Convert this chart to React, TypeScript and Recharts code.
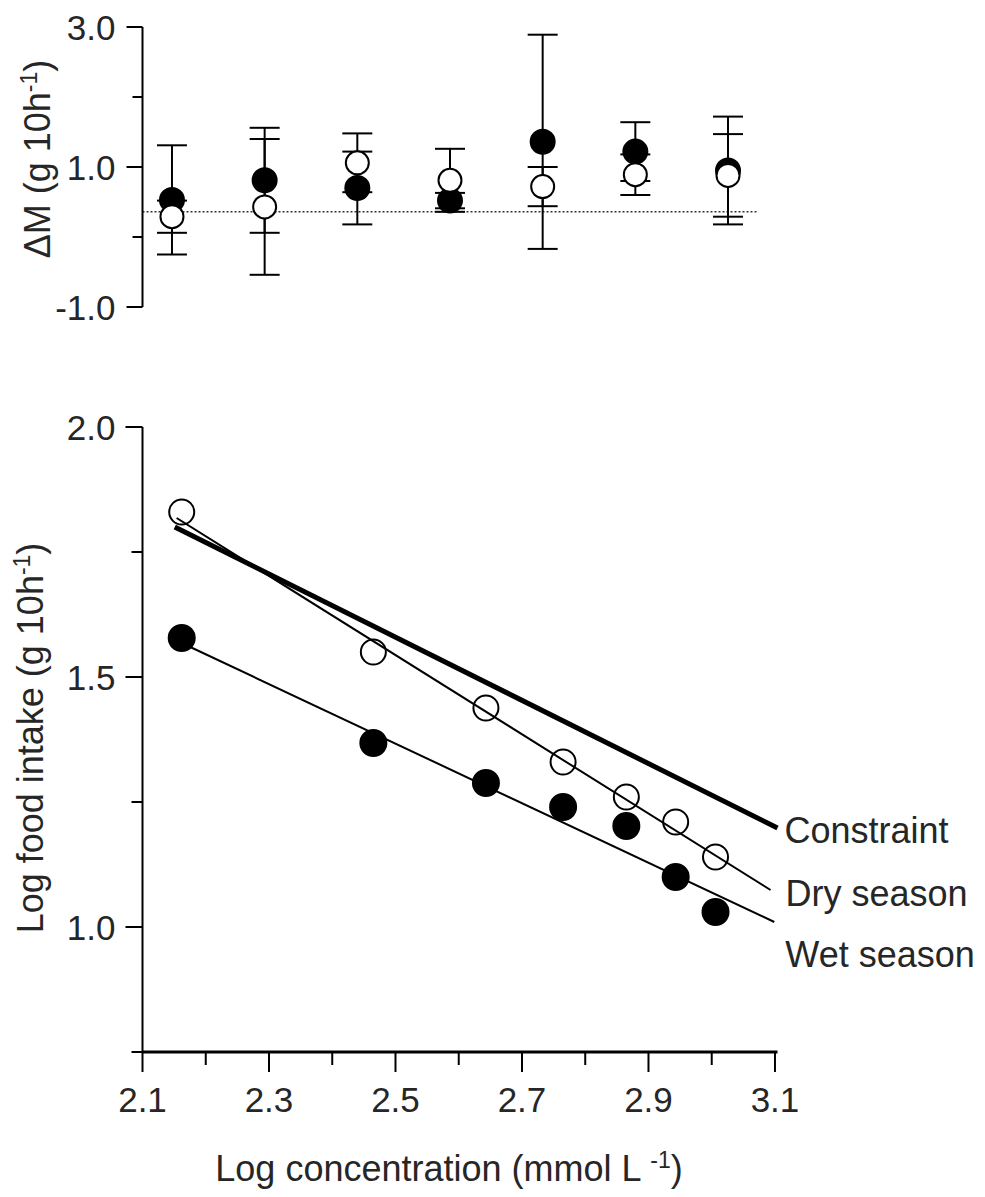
import React from 'react';
import { ScatterChart, Scatter, XAxis, YAxis, ErrorBar, ReferenceLine, Label } from 'recharts';

const FONT = '"Liberation Sans", Arial, Helvetica, sans-serif';
const TEXT = '#262626';

// ---------- top panel: change in body mass ----------
const groups = [1, 2, 3, 4, 5, 6, 7];
const wetChange = [0.53, 0.81, 0.7, 0.52, 1.36, 1.22, 0.95];
const wetChangeSE = [0.78, 0.75, 0.52, 0.11, 1.53, 0.42, 0.77];
const dryChange = [0.29, 0.43, 1.06, 0.81, 0.72, 0.89, 0.88];
const dryChangeSE = [0.23, 0.97, 0.42, 0.45, 0.28, 0.29, 0.59];
const changeBaseline = 0.36;
const baselineSpan = [0.682, 7.32];
const groupDomain = [0.682, 7.534];
const changeTicks = [-1, 0, 1, 2, 3];
const changeLabelled = [-1, 1, 3];

// ---------- bottom panel: food intake ----------
const logConc = [2.162, 2.465, 2.643, 2.765, 2.865, 2.943, 3.006];
const dryIntake = [1.83, 1.55, 1.438, 1.33, 1.26, 1.21, 1.14];
const wetIntake = [1.578, 1.368, 1.288, 1.24, 1.202, 1.1, 1.03];
const constraintX = [2.151, 3.104];
const constraintY = [1.8, 1.198];
const dryFitX = [2.154, 3.093];
const dryFitY = [1.818, 1.074];
const wetFitX = [2.162, 3.099];
const wetFitY = [1.568, 1.01];
const concTicks = [2.1, 2.2, 2.3, 2.4, 2.5, 2.6, 2.7, 2.8, 2.9, 3.0, 3.1];
const concLabelled = [2.1, 2.3, 2.5, 2.7, 2.9, 3.1];
const intakeTicks = [0.75, 1.0, 1.25, 1.5, 1.75, 2.0];
const intakeLabelled = [1.0, 1.5, 2.0];

const wetChangeData = groups.map((g, i) => ({ x: g, y: wetChange[i], se: wetChangeSE[i] }));
const dryChangeData = groups.map((g, i) => ({ x: g, y: dryChange[i], se: dryChangeSE[i] }));
const dryIntakeData = logConc.map((c, i) => ({ x: c, y: dryIntake[i] }));
const wetIntakeData = logConc.map((c, i) => ({ x: c, y: wetIntake[i] }));
const toPts = (xs: number[], ys: number[]) => xs.map((x, i) => ({ x, y: ys[i] }));
const constraintData = toPts(constraintX, constraintY);
const dryFitData = toPts(dryFitX, dryFitY);
const wetFitData = toPts(wetFitX, wetFitY);

const isIn = (list: number[], v: number) => list.some((l) => Math.abs(l - v) < 1e-6);

const makeYTick = (labelled: number[], major: number, minor: number) => (props: any) => {
  const { x, y, payload } = props;
  const v = payload.value;
  const big = isIn(labelled, v);
  return (
    <g>
      <line x1={x - (big ? major : minor)} x2={x} y1={y} y2={y} stroke="#000" strokeWidth={2} />
      {big && (
        <text x={x - 27} y={y} dy="0.36em" textAnchor="end" fontFamily={FONT} fontSize={35} fill={TEXT}>
          {v.toFixed(1)}
        </text>
      )}
    </g>
  );
};

const makeXTick = (labelled: number[], major: number, minor: number) => (props: any) => {
  const { x, y, payload } = props;
  const v = payload.value;
  const big = isIn(labelled, v);
  return (
    <g>
      <line x1={x} x2={x} y1={y} y2={y + (big ? major : minor)} stroke="#000" strokeWidth={2} />
      {big && (
        <text x={x} y={y + 60} textAnchor="middle" fontFamily={FONT} fontSize={35} fill={TEXT}>
          {v.toFixed(1)}
        </text>
      )}
    </g>
  );
};

const circleShape = (r: number, fill: string) => (props: any) => {
  const { cx, cy } = props;
  if (cx == null || cy == null) return <g />;
  return <circle cx={cx} cy={cy} r={r} fill={fill} stroke="#000" strokeWidth={2} />;
};

const endLabel = (text: string, lastX: number, dx: number, dy: number) => (props: any) => {
  const { cx, cy, payload } = props;
  if (!payload || Math.abs(payload.x - lastX) > 1e-9) return <g />;
  return (
    <text x={cx + dx} y={cy + dy} fontFamily={FONT} fontSize={36} fill={TEXT}>
      {text}
    </text>
  );
};

const yTitle = (main: string, dxFromBox: number, dyFromCenter: number) => (props: any) => {
  const vb = props.viewBox || { x: 0, y: 0, width: 0, height: 0 };
  const x = vb.x + dxFromBox;
  const y = vb.y + vb.height / 2 + dyFromCenter;
  return (
    <text
      x={x}
      y={y}
      transform={`rotate(-90 ${x} ${y})`}
      textAnchor="middle"
      fontFamily={FONT}
      fontSize={36}
      fill={TEXT}
    >
      <tspan>{main}</tspan>
      <tspan dy={-13} fontSize={23}>-1</tspan>
      <tspan dy={13}>)</tspan>
    </text>
  );
};

const xTitle = (props: any) => {
  const vb = props.viewBox || { x: 0, y: 0, width: 0, height: 0 };
  const x = vb.x + vb.width / 2 - 11;
  const y = vb.y + 129;
  return (
    <text x={x} y={y} textAnchor="middle" fontFamily={FONT} fontSize={36} fill={TEXT}>
      <tspan>Log concentration (mmol L </tspan>
      <tspan dy={-13} fontSize={23}>-1</tspan>
      <tspan dy={13}>)</tspan>
    </text>
  );
};

export default function App() {
  return (
    <div style={{ position: 'absolute', left: 0, top: 0, width: 985, height: 1197, background: '#fff' }}>
      <div style={{ position: 'absolute', left: 0, top: 0 }}>
        <ScatterChart width={985} height={340} margin={{ top: 27, right: 207.5, bottom: 33, left: 62.5 }}>
          <XAxis type="number" dataKey="x" domain={groupDomain} hide height={0} />
          <YAxis
            type="number"
            dataKey="y"
            domain={[-1, 3]}
            ticks={changeTicks}
            interval={0}
            width={80}
            tickSize={0}
            tickMargin={0}
            tickLine={false}
            axisLine={{ stroke: '#000', strokeWidth: 2 }}
            tick={makeYTick(changeLabelled, 16, 10)}
            label={<Label content={yTitle('ΔM (g 10h', -12.5, -8)} />}
          />
          <ReferenceLine
            segment={[
              { x: baselineSpan[0], y: changeBaseline },
              { x: baselineSpan[1], y: changeBaseline },
            ]}
            stroke="#333"
            strokeWidth={1.5}
            strokeDasharray="2 2"
          />
          <Scatter data={wetChangeData} shape={circleShape(12, '#000')} isAnimationActive={false}>
            <ErrorBar dataKey="se" direction="y" width={15} stroke="#000" strokeWidth={2} />
          </Scatter>
          <Scatter data={dryChangeData} shape={circleShape(11.5, '#fff')} isAnimationActive={false}>
            <ErrorBar dataKey="se" direction="y" width={15} stroke="#000" strokeWidth={2} />
          </Scatter>
        </ScatterChart>
      </div>
      <div style={{ position: 'absolute', left: 0, top: 380 }}>
        <ScatterChart width={985} height={817} margin={{ top: 47, right: 207.5, bottom: 85, left: 62.5 }}>
          <XAxis
            type="number"
            dataKey="x"
            domain={[2.1, 3.1]}
            ticks={concTicks}
            interval={0}
            height={60}
            tickSize={0}
            tickMargin={0}
            tickLine={false}
            axisLine={{ stroke: '#000', strokeWidth: 3 }}
            tick={makeXTick(concLabelled, 20, 13)}
            label={<Label content={xTitle} />}
          />
          <YAxis
            type="number"
            dataKey="y"
            domain={[0.75, 2.0]}
            ticks={intakeTicks}
            interval={0}
            width={80}
            tickSize={0}
            tickMargin={0}
            tickLine={false}
            axisLine={{ stroke: '#000', strokeWidth: 2 }}
            tick={makeYTick(intakeLabelled, 17, 11)}
            label={<Label content={yTitle('Log food intake (g 10h', -19.5, -1.5)} />}
          />
          <Scatter data={wetIntakeData} shape={circleShape(13, '#000')} isAnimationActive={false} />
          <Scatter data={dryIntakeData} shape={circleShape(12.5, '#fff')} isAnimationActive={false} />
          <Scatter
            data={constraintData}
            line={{ stroke: '#000', strokeWidth: 5 }}
            shape={endLabel('Constraint', constraintX[1], 7, 15)}
            isAnimationActive={false}
          />
          <Scatter
            data={dryFitData}
            line={{ stroke: '#000', strokeWidth: 2 }}
            shape={endLabel('Dry season', dryFitX[1], 15, 16)}
            isAnimationActive={false}
          />
          <Scatter
            data={wetFitData}
            line={{ stroke: '#000', strokeWidth: 2 }}
            shape={endLabel('Wet season', wetFitX[1], 11, 45)}
            isAnimationActive={false}
          />
        </ScatterChart>
      </div>
    </div>
  );
}
